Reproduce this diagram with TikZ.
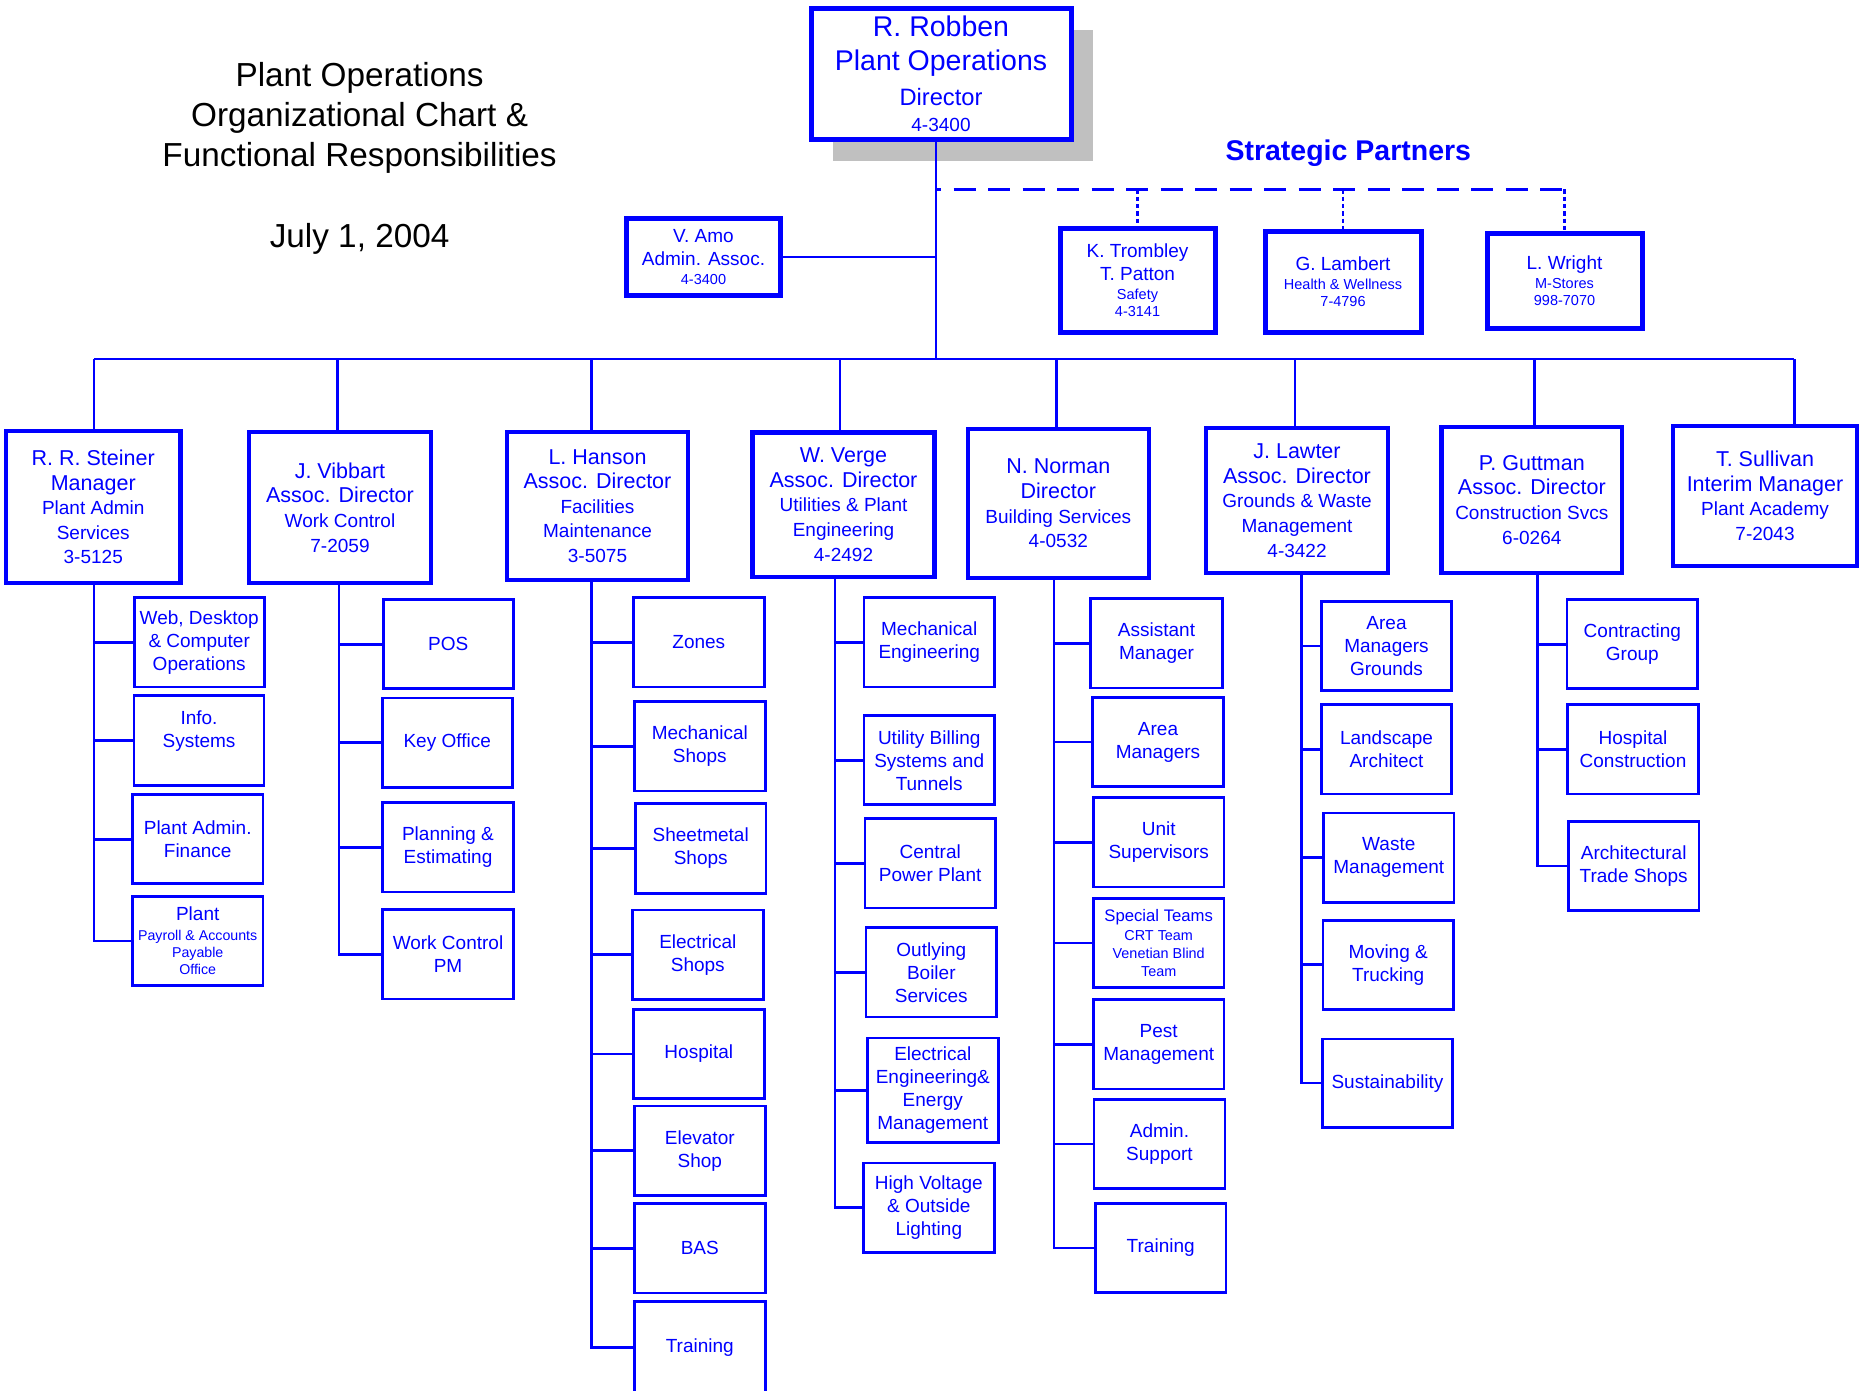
\documentclass[tikz,border=0pt]{standalone}
\usepackage{fontspec}
\setmainfont{Liberation Sans}
\usetikzlibrary{shadows}
\definecolor{myblue}{RGB}{0,0,255}
\definecolor{shadowgray}{RGB}{192,192,192}
\newcommand\fA{\fontsize{21.5}{24.6}\selectfont}
\newcommand\fB{\fontsize{19}{24.6}\selectfont}
\newcommand\fS{\fontsize{19}{23}\selectfont}
\newcommand\fT{\fontsize{14.5}{17.3}\selectfont}
\lineskiplimit=-100pt
\tikzset{
  conn/.style={myblue, line width=2.7pt},
  dashconn/.style={myblue, line width=3.2pt, dash pattern=on 22pt off 12.5pt, dash phase=17pt},
  dotconn/.style={myblue, line width=2.8pt, dash pattern=on 4.5pt off 2.8pt},
  hdrbox/.style={draw=myblue, line width=4.4pt, fill=white, inner sep=1pt, align=center, text=myblue, font=\fA},
  subbox/.style={draw=myblue, line width=2.8pt, fill=white, inner sep=1pt, align=center, text=myblue, font=\fS, minimum width=130.7pt, minimum height=89.3pt},
}
\begin{document}
\begin{tikzpicture}[x=1pt,y=-1pt]
\useasboundingbox (0,0) rectangle (1862,1390);

% titles
\node[font=\fontsize{33.3}{40}\selectfont, align=center, inner sep=0] (title) at (359.6,117.7) {Plant Operations\\Organizational Chart \&\\Functional Responsibilities};
\node[font=\fontsize{33.3}{40}\selectfont, inner sep=0, anchor=base] (date) at (359.6,247.3) {July 1, 2004};
\node[font=\fontsize{28.5}{34}\selectfont\bfseries, text=myblue, inner sep=0, anchor=base] (sp) at (1348.3,160) {Strategic Partners};

% top
\node[hdrbox, line width=5pt, minimum width=260pt, minimum height=131pt, font=\fontsize{28.5}{26}\selectfont,
      drop shadow={shadow xshift=22pt, shadow yshift=-22pt, opacity=1, fill=shadowgray}] (robben) at (941,73.5)
  {R. Robben\\[8.7pt]Plant Operations\\[8.3pt]\fontsize{23.7}{26}\selectfont Director\\\fontsize{19}{26}\selectfont 4-3400};
\node[hdrbox, line width=5pt, minimum width=154pt, minimum height=77pt, font=\fontsize{19}{18.3}\selectfont] (amo) at (703.5,257)
  {V. Amo\\[5pt]Admin. Assoc.\\\fontsize{14.5}{18.3}\selectfont 4-3400};

% partners
\node[hdrbox, line width=5pt, minimum width=155pt, minimum height=104pt, font=\fontsize{19}{17.3}\selectfont] (trombley) at (1137.5,280)
  {K. Trombley\\[6pt]T. Patton\\[1.4pt]\fT Safety\\\fT 4-3141};
\node[hdrbox, line width=5pt, minimum width=156pt, minimum height=101pt, font=\fontsize{19}{17}\selectfont] (lambert) at (1343,281.5)
  {G. Lambert\\[1.7pt]\fT Health \& Wellness\\\fT 7-4796};
\node[hdrbox, line width=5pt, minimum width=155pt, minimum height=95pt, font=\fontsize{19}{17.3}\selectfont] (wright) at (1564.5,280.5)
  {L. Wright\\[2pt]\fT M-Stores\\\fT 998-7070};

% level 2
\node[hdrbox, minimum width=174.5pt, minimum height=152pt] (steiner) at (93.25,507)
  {R. R. Steiner\\Manager\\\fB Plant Admin\\\fB Services\\\fB 3-5125};
\node[hdrbox, minimum width=182pt, minimum height=151pt] (vibbart) at (340,507.5)
  {J. Vibbart\\Assoc. Director\\\fB Work Control\\\fB 7-2059};
\node[hdrbox, minimum width=180.5pt, minimum height=148pt] (hanson) at (597.5,506)
  {L. Hanson\\Assoc. Director\\\fB Facilities\\\fB Maintenance\\\fB 3-5075};
\node[hdrbox, minimum width=182pt, minimum height=144.4pt] (verge) at (843.5,504.5)
  {W. Verge\\Assoc. Director\\\fB Utilities \& Plant\\\fB Engineering\\\fB 4-2492};
\node[hdrbox, minimum width=181pt, minimum height=148.7pt] (norman) at (1058.3,503.4)
  {N. Norman\\Director\\\fB Building Services\\\fB 4-0532};
\node[hdrbox, minimum width=181.5pt, minimum height=145pt] (lawter) at (1297,500.5)
  {J. Lawter\\Assoc. Director\\\fB Grounds \& Waste\\\fB Management\\\fB 4-3422};
\node[hdrbox, minimum width=180.5pt, minimum height=146pt] (guttman) at (1531.8,499.7)
  {P. Guttman\\Assoc. Director\\\fB Construction Svcs\\\fB 6-0264};
\node[hdrbox, minimum width=184pt, minimum height=139.7pt] (sullivan) at (1765,495.9)
  {T. Sullivan\\Interim Manager\\\fB Plant Academy\\\fB 7-2043};

% Steiner children
\node[subbox, minimum width=130pt] (s1) at (199.2,642.3) {Web, Desktop\\\& Computer\\Operations};
\node[subbox, minimum width=130pt] (s2) at (199,740.5) {Info.\\Systems\\\mbox{}};
\node[subbox] (s3) at (197.7,839.2) {Plant Admin.\\Finance};
\node[subbox, font=\fontsize{19}{17.2}\selectfont] (s4) at (197.7,941)
  {Plant\\[2.5pt]\fontsize{14.2}{17.2}\selectfont Payroll \& Accounts\\\fontsize{14.2}{17.2}\selectfont Payable\\\fontsize{14.2}{17.2}\selectfont Office};

% Vibbart children
\node[subbox, minimum width=130pt] (v1) at (448.3,644.2) {POS};
\node[subbox, minimum width=130pt] (v2) at (447.2,742.7) {Key Office};
\node[subbox] (v3) at (448,847.3) {Planning \&\\Estimating};
\node[subbox] (v4) at (448,954.3) {Work Control\\PM};

% Hanson children
\node[subbox, minimum width=131pt] (h1) at (698.8,642.4) {Zones};
\node[subbox, minimum width=131pt] (h2) at (699.8,746.4) {Mechanical\\Shops};
\node[subbox] (h3) at (700.7,848.5) {Sheetmetal\\Shops};
\node[subbox, minimum width=131pt] (h4) at (697.8,954.6) {Electrical\\Shops};
\node[subbox, minimum width=131pt] (h5) at (698.8,1054) {Hospital};
\node[subbox, minimum width=131pt] (h6) at (699.8,1150.7) {Elevator\\Shop};
\node[subbox, minimum width=131pt] (h7) at (699.8,1248.4) {BAS};
\node[subbox, minimum width=131pt, minimum height=92pt] (h8) at (699.8,1347.7) {Training};

% Verge children
\node[subbox, minimum width=130.3pt] (w1) at (929.2,642.4) {Mechanical\\Engineering};
\node[subbox, minimum width=130.3pt] (w2) at (929.2,760.2) {Utility Billing\\Systems and\\Tunnels};
\node[subbox, minimum width=130.3pt] (w3) at (930.2,863.3) {Central\\Power Plant};
\node[subbox] (w4) at (931.3,972.4) {Outlying\\Boiler\\Services};
\node[subbox, minimum width=131pt, minimum height=104.6pt] (w5) at (932.8,1090.3) {Electrical\\Engineering\&\\Energy\\Management};
\node[subbox, minimum width=131pt] (w6) at (928.8,1207.6) {High Voltage\\\& Outside\\Lighting};

% Norman children
\node[subbox, minimum width=131.6pt] (n1) at (1156.5,643.4) {Assistant\\Manager};
\node[subbox] (n2) at (1158,742) {Area\\Managers};
\node[subbox] (n3) at (1158.7,842.3) {Unit\\Supervisors};
\node[subbox, font=\fontsize{16.7}{17.8}\selectfont] (n4) at (1158.7,943)
  {Special Teams\\[0.8pt]\fontsize{14.4}{17.8}\selectfont CRT Team\\\fontsize{14.4}{17.8}\selectfont Venetian Blind\\\fontsize{14.4}{17.8}\selectfont Team};
\node[subbox] (n5) at (1158.7,1044.4) {Pest\\Management};
\node[subbox, minimum width=131pt] (n6) at (1159.5,1143.9) {Admin.\\Support};
\node[subbox] (n7) at (1160.7,1248) {Training};

% Lawter children
\node[subbox, minimum width=130.4pt] (l1) at (1386.5,645.9) {Area\\Managers\\Grounds};
\node[subbox, minimum width=130.4pt] (l2) at (1386.5,749.4) {Landscape\\Architect};
\node[subbox, minimum width=130.4pt] (l3) at (1388.8,857.6) {Waste\\Management};
\node[subbox, minimum width=130.4pt] (l4) at (1388.2,964.8) {Moving \&\\Trucking};
\node[subbox, minimum width=130.4pt, minimum height=88.2pt] (l5) at (1387.5,1083.1) {Sustainability};

% Guttman children
\node[subbox] (g1) at (1632.3,644.2) {Contracting\\Group};
\node[subbox] (g2) at (1633,749.3) {Hospital\\Construction};
\node[subbox] (g3) at (1633.7,866) {Architectural\\Trade Shops};

% top connectors
\coordinate (bL) at (94,359);
\coordinate (bR) at (1794.3,359);
\coordinate (bT) at (936,359);
\draw[conn] (robben.south -| bT) -- (bT);
\draw[conn] (amo.east) -- (amo.east -| bT);
\draw[conn] (bL) -- (bR);

% partners
\coordinate (p0) at (936,189.3);
\coordinate (p1) at (1564,189.3);
\draw[dashconn] (p0) -- (p1);
\draw[dotconn] (trombley.north |- p0) -- (trombley.north);
\draw[dotconn] (lambert.north |- p0) -- (lambert.north);
\draw[dotconn] (wright.north |- p0) -- (wright.north);

% drops to level 2
\coordinate (d1) at (94,359);
\coordinate (d2) at (337.3,359);
\coordinate (d3) at (591.4,359);
\coordinate (d4) at (840,359);
\coordinate (d5) at (1056.7,359);
\coordinate (d6) at (1295,359);
\coordinate (d7) at (1534.7,359);
\coordinate (d8) at (1794.3,359);
\draw[conn] (d1) -- (steiner.north -| d1);
\draw[conn] (d2) -- (vibbart.north -| d2);
\draw[conn] (d3) -- (hanson.north -| d3);
\draw[conn] (d4) -- (verge.north -| d4);
\draw[conn] (d5) -- (norman.north -| d5);
\draw[conn] (d6) -- (lawter.north -| d6);
\draw[conn] (d7) -- (guttman.north -| d7);
\draw[conn] (d8) -- (sullivan.north -| d8);

% child trunks
\coordinate (t1) at (94,0);
\coordinate (t2) at (339,0);
\coordinate (t3) at (591.4,0);
\coordinate (t4) at (835,0);
\coordinate (t5) at (1054,0);
\coordinate (t6) at (1301.7,0);
\coordinate (t7) at (1537.3,0);

\draw[conn] (steiner.south -| t1) -- (s4.west -| t1) -- (s4.west);
\foreach \c in {s1,s2,s3} \draw[conn] (\c.west -| t1) -- (\c.west);

\draw[conn] (vibbart.south -| t2) -- (v4.west -| t2) -- (v4.west);
\foreach \c in {v1,v2,v3} \draw[conn] (\c.west -| t2) -- (\c.west);

\draw[conn] (hanson.south -| t3) -- (h8.west -| t3) -- (h8.west);
\foreach \c in {h1,h2,h3,h4,h5,h6,h7} \draw[conn] (\c.west -| t3) -- (\c.west);

\draw[conn] (verge.south -| t4) -- (w6.west -| t4) -- (w6.west);
\foreach \c in {w1,w2,w3,w4,w5} \draw[conn] (\c.west -| t4) -- (\c.west);

\draw[conn] (norman.south -| t5) -- (n7.west -| t5) -- (n7.west);
\foreach \c in {n1,n2,n3,n4,n5,n6} \draw[conn] (\c.west -| t5) -- (\c.west);

\draw[conn] (lawter.south -| t6) -- (l5.west -| t6) -- (l5.west);
\foreach \c in {l1,l2,l3,l4} \draw[conn] (\c.west -| t6) -- (\c.west);

\draw[conn] (guttman.south -| t7) -- (g3.west -| t7) -- (g3.west);
\foreach \c in {g1,g2} \draw[conn] (\c.west -| t7) -- (\c.west);
\end{tikzpicture}
\end{document}
